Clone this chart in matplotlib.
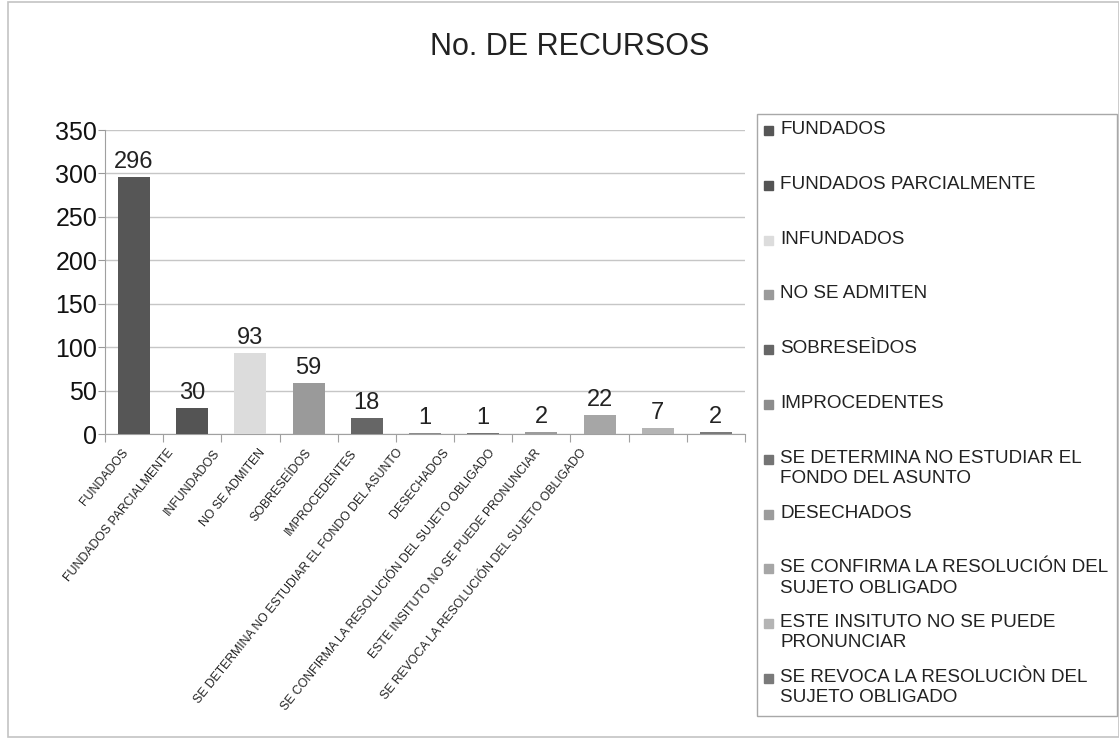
import numpy as np
import matplotlib
matplotlib.use("Agg")
import matplotlib.pyplot as plt
from matplotlib.patches import Rectangle
from matplotlib.transforms import ScaledTranslation

plt.rcParams['font.family'] = ['Liberation Sans', 'DejaVu Sans']

# Data
categorias = ["FUNDADOS", "FUNDADOS PARCIALMENTE", "INFUNDADOS", "NO SE ADMITEN",
              "SOBRESEÍDOS", "IMPROCEDENTES",
              "SE DETERMINA NO ESTUDIAR EL FONDO DEL ASUNTO", "DESECHADOS",
              "SE CONFIRMA LA RESOLUCIÓN DEL SUJETO OBLIGADO",
              "ESTE INSITUTO NO SE PUEDE PRONUNCIAR",
              "SE REVOCA LA RESOLUCIÓN DEL SUJETO OBLIGADO"]
etiquetas_leyenda = ["FUNDADOS", "FUNDADOS PARCIALMENTE", "INFUNDADOS", "NO SE ADMITEN",
                     "SOBRESEÌDOS", "IMPROCEDENTES",
                     "SE DETERMINA NO ESTUDIAR EL\nFONDO DEL ASUNTO", "DESECHADOS",
                     "SE CONFIRMA LA RESOLUCIÓN DEL\nSUJETO OBLIGADO",
                     "ESTE INSITUTO NO SE PUEDE\nPRONUNCIAR",
                     "SE REVOCA LA RESOLUCIÒN DEL\nSUJETO OBLIGADO"]
recursos = [296, 30, 93, 59, 18, 1, 1, 2, 22, 7, 2]
colores = ["#565656", "#545454", "#dcdcdc", "#9a9a9a", "#666666", "#8c8c8c",
           "#747474", "#9c9c9c", "#a6a6a6", "#b4b4b4", "#7a7a7a"]

W, H = 1119, 739
fig = plt.figure(figsize=(W / 100, H / 100), dpi=100)
fig.patch.set_facecolor("white")

# outer chart border
fig.patches.append(Rectangle((8 / W, 2 / H), 1 - 8 / W, 1 - 4 / H, transform=fig.transFigure,
                             fill=False, edgecolor="#c4c4c4", linewidth=1.2))

ax = fig.add_axes([105 / W, 1 - 434 / H, 640 / W, 304 / H])
x = np.arange(len(categorias))
bars = ax.bar(x, recursos, width=0.55, color=colores, zorder=3)
ax.bar_label(bars, labels=[str(v) for v in recursos], padding=3, fontsize=17, color="#222222")

ax.set_xlim(-0.5, len(categorias) - 0.5)
ax.set_ylim(0, 350)
ax.set_yticks(np.arange(0, 351, 50))
ax.tick_params(axis="y", labelsize=18, length=5, color="#999999", pad=0.5, labelcolor="#111111")
ax.yaxis.grid(True, color="#c6c6c6", linewidth=1.0, zorder=0)
ax.set_axisbelow(True)
for s in ["top", "right"]:
    ax.spines[s].set_visible(False)
for s in ["left", "bottom"]:
    ax.spines[s].set_color("#a0a0a0")

# tick marks between categories, labels rotated
ax.set_xticks(np.arange(-0.5, len(categorias) + 0.5, 1.0), minor=False)
ax.set_xticklabels([])
ax.tick_params(axis="x", length=6, color="#a0a0a0", direction="out")
ax.set_xticks(x, minor=True)
ax.set_xticklabels(categorias, minor=True, rotation=51, ha="right", va="center",
                   rotation_mode="anchor", fontsize=8.8, color="#222222")
ax.tick_params(axis="x", which="minor", length=0, pad=12)
# the original labels drift left of their bars
for i, lab in enumerate(ax.get_xticklabels(minor=True)):
    lab.set_transform(lab.get_transform() + ScaledTranslation(-(8 + 12.4 * i) / 100, 0, fig.dpi_scale_trans))

fig.text(570 / W, 1 - 47 / H, "No. DE RECURSOS", fontsize=22, ha="center", va="center", color="#222222")

# legend box
fig.patches.append(Rectangle((757 / W, 1 - 716 / H), (1117 - 757) / W, (716 - 114) / H,
                             transform=fig.transFigure, fill=False, edgecolor="#a8a8a8", linewidth=1.0))
for i, (lab, c) in enumerate(zip(etiquetas_leyenda, colores)):
    ytop = 130 + 54.8 * i
    fig.patches.append(Rectangle((764 / W, 1 - (ytop + 5) / H), 9 / W, 9 / H,
                                 transform=fig.transFigure, color=c))
    fig.text(780 / W, 1 - (ytop - 9) / H, lab, fontsize=13.6, ha="left", va="top",
             color="#222222", linespacing=1.25)

fig.savefig("out.png", dpi=100)
